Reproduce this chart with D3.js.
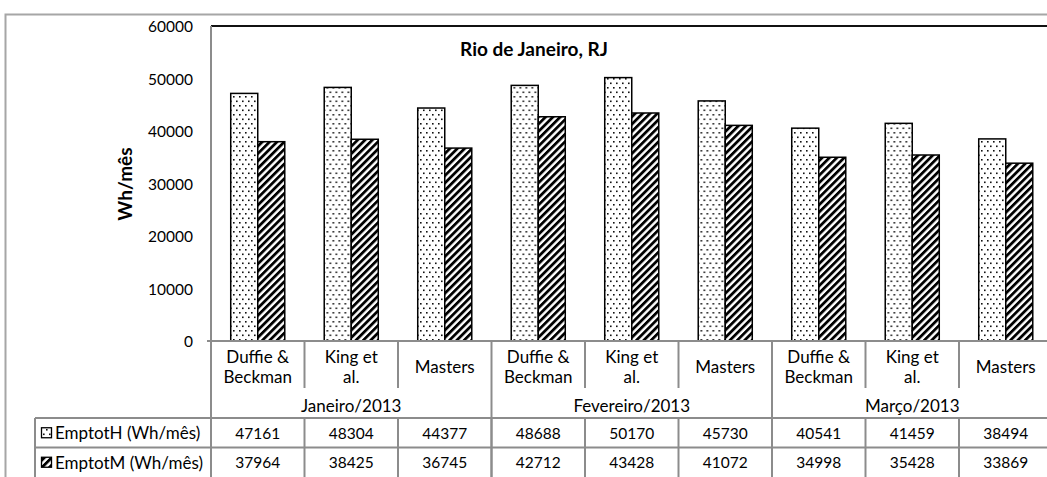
<!DOCTYPE html>
<html>
<head>
<meta charset="utf-8">
<script src="https://cdn.jsdelivr.net/npm/d3@7"></script>
<style>
	body { margin: 0; background: #fff; }
	text { font-family: Lato, "Open Sans", sans-serif; fill: #000; }
</style>
</head>
<body>
<svg id="chart" width="1047" height="477"></svg>
<script>
"use strict";

// data
var months = ["Janeiro/2013", "Fevereiro/2013", "Março/2013"];
var methods = [["Duffie &", "Beckman"], ["King et", "al."], ["Masters"]];
var series_names = ["EmptotH (Wh/mês)", "EmptotM (Wh/mês)"];
var emptotH = [47161, 48304, 44377, 48688, 50170, 45730, 40541, 41459, 38494];
var emptotM = [37964, 38425, 36745, 42712, 43428, 41072, 34998, 35428, 33869];
var y_ticks = [0, 10000, 20000, 30000, 40000, 50000, 60000];

var chart_title = "Rio de Janeiro, RJ";
var y_title = "Wh/mês";

var line_gray = "#8c8c8c";
var font_size = 17;
var num_size = 15.5;
var title_size = 19;

var svg = d3.select("#chart");

// category list : one entry per (month, method)
var cats = [];
months.forEach(function(m, mi){
	methods.forEach(function(lab, li){
		cats.push({id: mi*3+li, month: m, label: lab, h: emptotH[mi*3+li], m: emptotM[mi*3+li]});
	});
});

var plot_left = 211, plot_right = 1052.5, plot_top = 26, plot_bottom = 341;

var x0 = d3.scaleBand().domain(cats.map(function(d){return d.id;}))
	.range([plot_left, plot_right]).padding(0);
var x1 = d3.scaleBand().domain([0, 1])
	.range([0, x0.bandwidth()]).paddingInner(0).paddingOuter(0.73);
var y = d3.scaleLinear().domain([0, 60000]).range([plot_bottom, plot_top]);

/////////////////////////////////////////
// patterns
var defs = svg.append("defs");
var dots = defs.append("pattern").attr("id", "dots")
	.attr("patternUnits", "userSpaceOnUse").attr("width", 6).attr("height", 9);
dots.append("rect").attr("width", 6).attr("height", 9).attr("fill", "#fff");
dots.append("rect").attr("x", 1).attr("y", 1.5).attr("width", 1.6).attr("height", 1.6).attr("fill", "#111");
dots.append("rect").attr("x", 4).attr("y", 6).attr("width", 1.6).attr("height", 1.6).attr("fill", "#111");

var hatch = defs.append("pattern").attr("id", "hatch")
	.attr("patternUnits", "userSpaceOnUse").attr("width", 5.2).attr("height", 10)
	.attr("patternTransform", "rotate(45)");
hatch.append("rect").attr("width", 5.2).attr("height", 10).attr("fill", "#fff");
hatch.append("rect").attr("width", 2.8).attr("height", 10).attr("fill", "#000");

var fills = ["url(#dots)", "url(#hatch)"];

/////////////////////////////////////////
// outer frame
svg.append("path")
	.attr("d", "M5.5,477 V14.5 H1047")
	.attr("fill", "none").attr("stroke", "#a6a6a6").attr("stroke-width", 2);

// top line at 60000
svg.append("line")
	.attr("x1", plot_left).attr("x2", plot_right)
	.attr("y1", y(60000)).attr("y2", y(60000))
	.attr("stroke", "#111").attr("stroke-width", 2);

// y axis labels
svg.append("g").selectAll("text").data(y_ticks).enter().append("text")
	.attr("x", 193).attr("y", function(d){return y(d);})
	.attr("text-anchor", "end").attr("dominant-baseline", "central")
	.attr("font-size", num_size)
	.text(function(d){return d;});

svg.append("text")
	.attr("transform", "translate(124,184) rotate(-90)")
	.attr("text-anchor", "middle").attr("dominant-baseline", "central")
	.attr("font-size", title_size).attr("font-weight", "bold")
	.text(y_title);

svg.append("text")
	.attr("x", 534).attr("y", 48)
	.attr("text-anchor", "middle").attr("dominant-baseline", "central")
	.attr("font-size", title_size).attr("font-weight", "bold")
	.text(chart_title);

/////////////////////////////////////////
// bars
var groups = svg.append("g").selectAll("g").data(cats).enter().append("g")
	.attr("transform", function(d){return "translate(" + x0(d.id) + ",0)";});

groups.selectAll("rect").data(function(d){return [d.h, d.m];}).enter().append("rect")
	.attr("x", function(d, i){return x1(i);})
	.attr("y", function(d){return y(d);})
	.attr("width", x1.bandwidth())
	.attr("height", function(d){return y(0) - y(d);})
	.attr("fill", function(d, i){return fills[i];})
	.attr("stroke", "#000").attr("stroke-width", 1.5);

/////////////////////////////////////////
// data table
var label_bottom = 388, month_bottom = 418, row_h = 29.5, table_left = 35;
var rows_top = [month_bottom, month_bottom + row_h];

var grid = svg.append("g").attr("stroke", line_gray).attr("stroke-width", 2);

// y axis line down to the bottom
grid.append("line").attr("x1", plot_left).attr("x2", plot_left)
	.attr("y1", plot_top).attr("y2", 477);
// x axis line
grid.append("line").attr("x1", plot_left - 4).attr("x2", plot_right + 5)
	.attr("y1", plot_bottom).attr("y2", plot_bottom);
// row lines
rows_top.forEach(function(t){
	grid.append("line").attr("x1", table_left).attr("x2", plot_right + 5)
		.attr("y1", t).attr("y2", t);
});
grid.append("line").attr("x1", table_left).attr("x2", table_left)
	.attr("y1", month_bottom).attr("y2", 477);

// category separators : long ones between months
cats.forEach(function(d){
	var xr = x0(d.id) + x0.bandwidth();
	var end_month = (d.id % 3 == 2);
	grid.append("line").attr("x1", xr).attr("x2", xr)
		.attr("y1", plot_bottom).attr("y2", end_month ? 477 : label_bottom);
	grid.append("line").attr("x1", xr).attr("x2", xr)
		.attr("y1", month_bottom).attr("y2", 477);
});

// category labels
groups.append("text")
	.attr("x", x0.bandwidth()/2)
	.attr("text-anchor", "middle").attr("font-size", font_size)
	.each(function(d){
		var t = d3.select(this);
		var y_start = d.label.length == 1 ? 366 : 356.5;
		d.label.forEach(function(line, k){
			t.append("tspan").attr("x", x0.bandwidth()/2)
				.attr("y", y_start + k*19.5).attr("dominant-baseline", "central")
				.text(line);
		});
	});

// month labels
svg.append("g").selectAll("text").data(months).enter().append("text")
	.attr("x", function(d, i){return (x0(i*3) + x0(i*3+2) + x0.bandwidth())/2;})
	.attr("y", 405).attr("text-anchor", "middle").attr("dominant-baseline", "central")
	.attr("font-size", font_size)
	.text(function(d){return d;});

// values
[emptotH, emptotM].forEach(function(vals, r){
	svg.append("g").selectAll("text").data(vals).enter().append("text")
		.attr("x", function(d, i){return x0(i) + x0.bandwidth()/2;})
		.attr("y", rows_top[r] + row_h/2).attr("text-anchor", "middle")
		.attr("dominant-baseline", "central").attr("font-size", num_size)
		.text(function(d){return d;});
});

// legend keys and names
series_names.forEach(function(name, r){
	var cy = rows_top[r] + row_h/2;
	svg.append("rect").attr("x", 41.5).attr("y", cy - 5).attr("width", 10).attr("height", 10)
		.attr("fill", fills[r]).attr("stroke", "#000").attr("stroke-width", 1.3);
	svg.append("text").attr("x", 55).attr("y", cy)
		.attr("dominant-baseline", "central").attr("font-size", font_size)
		.text(name);
});
</script>
</body>
</html>
